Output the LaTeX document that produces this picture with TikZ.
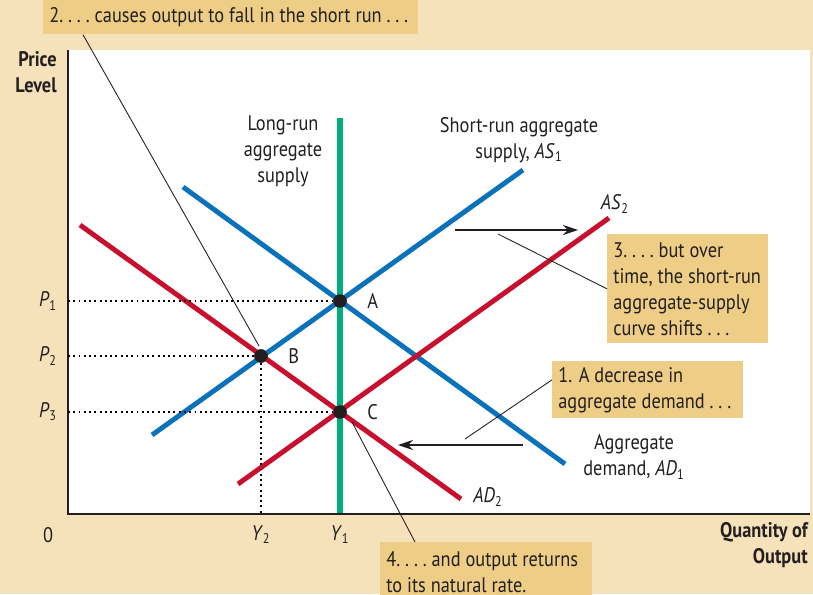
\documentclass[tikz,border=0pt]{standalone}
\usepackage{fontspec}
\setmainfont{PT Sans}[FakeStretch=0.87]
\usetikzlibrary{
  positioning,
  arrows.meta,
  calc
}
\definecolor{paper}{HTML}{F6E2BA}
\definecolor{callout}{HTML}{EECE86}
\definecolor{asblue}{HTML}{0A72BA}
\definecolor{adred}{HTML}{C8102E}
\definecolor{lrgreen}{HTML}{00AE7E}
\definecolor{ink}{HTML}{231F20}

\begin{document}
\begin{tikzpicture}[
  x=0.02cm, y=-0.02cm,
  curve/.style={line width=2.8pt},
  guide/.style={line width=1.1pt, dash pattern=on 1.1pt off 1.9pt},
  lead/.style={line width=0.5pt, ink},
  shiftarrow/.style={line width=0.7pt, ink, -{Stealth[length=3mm, width=2mm]}},
  note/.style={fill=callout, anchor=north west, align=flush left, inner xsep=0.12cm,
               inner ysep=0pt, text=ink, font=\fontsize{12}{14.8}\selectfont},
  lbl/.style={align=center, text=ink, font=\fontsize{12}{14.8}\selectfont},
  axlbl/.style={align=right, anchor=east, inner xsep=0pt, text=ink,
                font=\bfseries\fontsize{12}{14.8}\selectfont},
  dot/.style={circle, fill=ink, inner sep=0pt, minimum size=0.27cm}
]
  \useasboundingbox (0,0) rectangle (813,594);
  \clip (0,0) rectangle (813,594);
  \fill[paper] (0,0) rectangle (813,594);
  \fill[white] (68,50) rectangle (810,514);

  % equilibrium points
  \node[dot] (A) at (340,301) {};
  \node[dot] (B) at (261,356) {};
  \node[dot] (C) at (340,412) {};

  % curves
  \draw[curve, asblue] (152,435) -- (523,170);
  \draw[curve, asblue] (183,187) -- (565,464);
  \draw[curve, adred] (80,225) -- (461,499);
  \draw[curve, adred] (238,484) -- (609,218);
  \draw[curve, lrgreen, line width=3.2pt] (340,118) -- (340,514);

  % axes
  \draw[line width=0.9pt, ink] (68,50) -- (68,514) -- (810,514);

  % price and output levels
  \node[lbl] (p1) at (48,301) {\textit{P}\textsubscript{1}};
  \node[lbl] (p2) at (48,356) {\textit{P}\textsubscript{2}};
  \node[lbl] (p3) at (48,412) {\textit{P}\textsubscript{3}};
  \node[lbl] (y2) at (261,535) {\textit{Y}\textsubscript{2}};
  \node[lbl] (y1) at (340,535) {\textit{Y}\textsubscript{1}};
  \node[lbl] (zero) at (48,535) {0};
  \draw[guide] (68,301) -- (A);
  \draw[guide] (68,356) -- (B);
  \draw[guide] (68,412) -- (C);
  \draw[guide] (B) -- (261,514);
  \node[dot] at (A) {};
  \node[dot] at (B) {};
  \node[dot] at (C) {};
  \node[lbl, right=0.28cm of A] (alab) {A};
  \node[lbl, right=0.28cm of B] (blab) {B};
  \node[lbl, right=0.28cm of C] (clab) {C};

  % axis titles
  \node[axlbl] (plevel) at (57,72) {Price\\Level};
  \node[axlbl] (qout) at (808,545) {Quantity of\\Output};

  % curve labels
  \node[lbl] (lras) at (283,151) {Long-run\\aggregate\\supply};
  \node[lbl] (sras) at (519,140) {Short-run aggregate\\supply, \textit{AS}\textsubscript{1}};
  \node[lbl] (as2) at (615,204) {\textit{AS}\textsubscript{2}};
  \node[lbl] (ad1) at (634,457) {Aggregate\\demand, \textit{AD}\textsubscript{1}};
  \node[lbl] (ad2) at (488,497) {\textit{AD}\textsubscript{2}};

  % shifts
  \coordinate (asfrom) at (455,230);
  \coordinate (asto) at (578,230);
  \coordinate (adfrom) at (523,445);
  \coordinate (adto) at (398,445);
  \draw[shiftarrow] (asfrom) -- (asto);
  \draw[shiftarrow] (adfrom) -- (adto);

  % callouts
  \node[note, text width=7.26cm, minimum height=0.68cm] (note2) at (43,0)
    {2.\ .\ .\ .\ causes output to fall in the short run\ .\ .\ .};
  \node[note, text width=2.98cm, minimum height=2.18cm] (note3) at (607,234)
    {3.\ .\ .\ .\ but over\\time, the short-run\\aggregate-supply\\curve shifts\ .\ .\ .};
  \node[note, text width=3.58cm, minimum height=1.14cm] (note1) at (552,361)
    {1. A decrease in\\aggregate demand\ .\ .\ .};
  \node[note, text width=4.0cm, minimum height=1.2cm] (note4) at (380,542)
    {4.\ .\ .\ .\ and output returns\\to its natural rate.};

  \coordinate (to3) at (498,234);
  \coordinate (to1) at (465,439);
  \draw[lead] ($(note2.south west)+(40,0)$) -- ($(B)+(-2,-10)$);
  \draw[lead] (note3.west) -- (to3);
  \draw[lead] ($(note1.west)+(0,-10)$) -- (to1);
  \draw[lead] ($(note4.north west)+(35,0)$) -- ($(C)+(12,10)$);
\end{tikzpicture}
\end{document}
